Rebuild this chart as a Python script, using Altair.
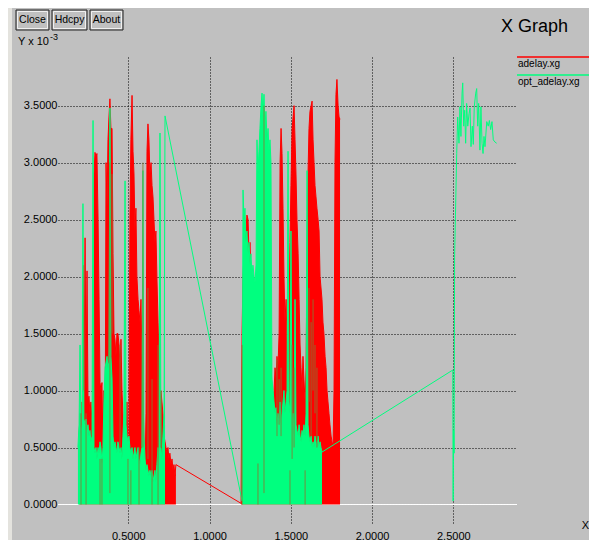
import altair as alt
import pandas as pd

# ---------------- data ----------------
# dense time samples (s) of the first burst
t1 = [0.190, 0.197, 0.203, 0.209, 0.215, 0.221, 0.227, 0.234, 0.240, 0.246,
      0.252, 0.258, 0.264, 0.270, 0.277, 0.283, 0.289, 0.295, 0.301, 0.307,
      0.314, 0.320, 0.326, 0.332, 0.338, 0.344, 0.350, 0.357, 0.363, 0.369,
      0.375, 0.381, 0.387, 0.393, 0.400, 0.406, 0.412, 0.418, 0.424, 0.430,
      0.436, 0.443, 0.449, 0.455, 0.461, 0.467, 0.473, 0.480, 0.486, 0.492,
      0.498, 0.504, 0.510, 0.516, 0.523, 0.529, 0.535, 0.541, 0.547, 0.553,
      0.560, 0.566, 0.572, 0.578, 0.584, 0.590, 0.596, 0.603, 0.609, 0.615,
      0.621, 0.627, 0.633, 0.640, 0.646, 0.652, 0.658, 0.664, 0.670, 0.676,
      0.683, 0.689, 0.695, 0.701, 0.707, 0.713, 0.720, 0.726, 0.732, 0.738,
      0.744, 0.750, 0.756, 0.763, 0.769, 0.775, 0.781, 0.787, 0.793]
# dense time samples (s) of the second burst
t2 = [1.194, 1.200, 1.206, 1.212, 1.218, 1.224, 1.230, 1.237, 1.243, 1.249,
      1.255, 1.261, 1.267, 1.274, 1.280, 1.286, 1.292, 1.298, 1.304, 1.310,
      1.317, 1.323, 1.329, 1.335, 1.341, 1.347, 1.354, 1.360, 1.366, 1.372,
      1.378, 1.384, 1.391, 1.397, 1.403, 1.409, 1.415, 1.421, 1.428, 1.434,
      1.440, 1.446, 1.452, 1.458, 1.464, 1.471, 1.477, 1.483, 1.489, 1.495,
      1.501, 1.508, 1.514, 1.520, 1.526, 1.532, 1.538, 1.545, 1.551, 1.557,
      1.563, 1.569, 1.575, 1.581, 1.588, 1.594, 1.600, 1.606, 1.612, 1.618,
      1.625, 1.631, 1.637, 1.643, 1.649, 1.655, 1.661, 1.668, 1.674, 1.680,
      1.686, 1.692, 1.698, 1.704, 1.711, 1.717, 1.723, 1.729, 1.735, 1.741,
      1.748, 1.754, 1.760, 1.766, 1.772, 1.778, 1.784, 1.791, 1.797, 1.803]

# adelay.xg (Y x 10^-3), first burst on t1[1:]
adelay_1 = [0.6, 0.8, 0.3, 0.9, 0.7, 0.9, 2.34, 1.0, 2.05, 0.9,
            0.95, 0.8, 0.9, 0.7, 0.3, 2.9, 3.09, 3.05, 3.08, 2.5,
            1.8, 1.07, 1.0, 1.07, 0.5, 1.0, 0.2, 3.0, 2.6, 3.2,
            3.4, 3.56, 3.3, 3.3, 2.2, 1.5, 1.45, 1.3, 1.5, 1.5,
            1.4, 1.2, 1.45, 1.0, 0.8, 0.5, 0.8, 0.3, 0.9, 0.2,
            0.6, 2.5, 3.2, 3.59, 3.1, 2.9, 2.4, 2.6, 2.0, 1.8,
            1.7, 1.6, 1.8, 1.3, 1.0, 0.6, 0.3, 0.8, 3.1, 3.34,
            3.2, 2.9, 3.0, 2.8, 2.7, 2.5, 2.3, 2.4, 2.0, 1.6,
            1.3, 1.0, 1.0, 0.9, 0.8, 0.6, 0.55, 0.5, 0.45, 0.5,
            0.4, 0.45, 0.35, 0.4, 0.3, 0.35, 0.25, 0.35]
# adelay.xg second burst on t2
adelay_2 = [0.01, 1.5, 2.0, 2.2, 2.3, 2.4, 2.54, 2.5, 2.2, 2.3,
            2.0, 1.8, 2.0, 1.6, 1.9, 1.5, 2.1, 1.8, 2.4, 2.2,
            2.8, 2.5, 3.0, 3.2, 2.6, 3.3, 2.5, 2.2, 1.8, 1.5,
            1.3, 1.0, 0.9, 1.0, 1.2, 1.1, 1.3, 1.2, 1.5, 3.0,
            3.3, 3.08, 2.6, 2.0, 1.6, 1.8, 1.4, 1.2, 1.7, 2.3,
            2.8, 3.3, 3.4, 3.5, 3.2, 2.9, 2.5, 2.2, 1.8, 1.4,
            1.2, 1.0, 1.3, 1.1, 0.9, 1.2, 2.2, 2.9, 3.3, 3.45,
            3.5, 3.54, 3.2, 3.0, 2.8, 2.7, 2.6, 2.5, 2.4, 2.0,
            1.9, 1.8, 1.6, 1.5, 1.3, 1.2, 1.0, 0.9, 0.8, 0.7,
            0.6, 0.55, 0.5, 1.0, 3.0, 3.6, 3.73, 3.5, 3.4, 3.38]

# opt_adelay.xg first burst on t1[:88]
opt_1 = [0.5, 0.7, 1.40, 0.6, 0.7, 2.64, 0.75, 0.7, 0.75, 0.65,
         0.7, 0.6, 0.65, 0.55, 0.6, 3.37, 0.5, 0.45, 0.5, 0.4,
         0.5, 0.45, 0.55, 0.5, 0.35, 0.5, 0.9, 1.2, 1.25, 1.3,
         1.2, 1.25, 3.48, 1.3, 1.1, 0.6, 0.5, 0.55, 0.5, 0.45,
         0.55, 0.5, 0.45, 0.5, 0.4, 0.6, 0.8, 2.84, 0.7, 0.6,
         0.55, 0.6, 0.5, 0.45, 0.5, 0.4, 0.45, 0.5, 0.4, 0.45,
         0.5, 0.4, 0.35, 0.45, 0.5, 2.93, 0.6, 0.4, 0.3, 0.35,
         0.3, 0.25, 0.3, 0.25, 0.3, 0.2, 0.25, 0.3, 0.2, 0.35,
         0.5, 0.4, 3.26, 0.5, 0.4, 0.6, 0.8, 3.41]
# opt_adelay.xg second burst on t2[1:82]
opt_2 = [0.03, 2.76, 2.5, 2.6, 2.3, 2.4, 2.2, 2.3, 2.1, 2.2,
         2.0, 2.1, 2.0, 1.95, 2.1, 3.2, 2.9, 3.1, 3.3, 3.5,
         3.61, 3.4, 3.6, 3.3, 3.45, 3.2, 3.3, 3.1, 3.2, 3.0,
         1.1, 1.0, 0.9, 0.8, 0.85, 0.7, 0.8, 0.75, 0.9, 0.7,
         0.8, 0.9, 1.0, 0.8, 0.9, 1.0, 3.1, 0.9, 0.8, 2.4,
         0.7, 0.8, 0.6, 1.8, 0.7, 0.65, 0.6, 0.7, 0.6, 0.55,
         0.65, 0.6, 0.7, 0.6, 0.8, 2.93, 0.7, 0.6, 0.55, 0.6,
         0.5, 0.55, 0.5, 0.6, 0.55, 0.5, 0.6, 0.5, 0.55, 0.5, 0.46]
# opt_adelay.xg third part (line only)
opt_3_t = [2.497, 2.499, 2.502, 2.505, 2.508, 2.521, 2.527, 2.535, 2.541, 2.547,
           2.554, 2.558, 2.564, 2.570, 2.576, 2.582, 2.589, 2.597, 2.603, 2.609,
           2.617, 2.623, 2.629, 2.638, 2.644, 2.650, 2.656, 2.664, 2.670, 2.677,
           2.683, 2.689, 2.695, 2.706, 2.715, 2.722, 2.730, 2.738, 2.746, 2.757, 2.767]
opt_3 = [1.18, 0.03, 0.65, 0.45, 2.17, 3.08, 3.40, 3.17, 3.49, 3.23,
         3.61, 3.70, 3.32, 3.46, 3.17, 3.52, 3.32, 3.43, 3.48, 3.14,
         3.32, 3.16, 3.49, 3.61, 3.65, 3.32, 3.52, 3.11, 3.49, 3.17,
         3.08, 3.23, 3.14, 3.36, 3.32, 3.37, 3.29, 3.36, 3.20, 3.18, 3.17]

# thin overlap strokes (where the two traces cross), time / low / high
overlap_t = [0.209, 0.227, 0.240, 0.326, 0.338, 0.387, 0.400, 0.449, 0.498,
             0.516, 0.566, 0.590, 0.621, 0.646, 0.683, 0.701,
             1.200, 1.298, 1.335, 1.415, 1.428, 1.440, 1.495, 1.508, 1.520,
             1.588, 1.612, 1.625, 1.637, 1.649, 1.661]
overlap_lo = [0.0, 1.0, 0.0, 0.0, 0.0, 0.1, 1.5, 0.5, 0.0,
              0.0, 0.0, 0.5, 0.4, 0.0, 0.0, 0.5,
              0.0, 0.0, 0.1, 0.6, 0.7, 0.6, 0.0, 0.4, 0.5,
              0.0, 0.9, 0.6, 1.0, 0.8, 0.5]
overlap_hi = [0.8, 2.1, 0.8, 0.4, 0.4, 3.0, 2.9, 1.4, 0.4,
              0.3, 0.5, 3.0, 1.9, 1.1, 1.4, 1.0,
              1.4, 0.36, 3.5, 1.27, 1.1, 1.2, 0.3, 1.4, 1.2,
              0.3, 1.9, 1.6, 1.8, 1.4, 1.2]

x_ticks = [0.5, 1.0, 1.5, 2.0, 2.5]
y_ticks = [0.0, 0.5, 1.0, 1.5, 2.0, 2.5, 3.0, 3.5]
series_names = ["adelay.xg", "opt_adelay.xg"]
buttons = ["Close", "Hdcpy", "About"]
title_text = "X Graph"

assert len(adelay_1) == len(t1) - 1
assert len(adelay_2) == len(t2)
assert len(opt_1) == 88
assert len(opt_2) == 81
assert len(opt_3_t) == len(opt_3)
assert len(overlap_t) == len(overlap_lo) == len(overlap_hi)

# ---------------- tables ----------------
def seg(ts, ys, name, segid):
    return pd.DataFrame({"t": ts, "v": ys, "series": name, "seg": segid, "base": 0.0})

red_parts = [seg(t1[1:], adelay_1, series_names[0], 1),
             seg(t2, adelay_2, series_names[0], 2)]
green_parts = [seg(t1[:88], opt_1, series_names[1], 1),
               seg(t2[1:82], opt_2, series_names[1], 2),
               seg(opt_3_t, opt_3, series_names[1], 3)]
red = pd.concat(red_parts, ignore_index=True)
red["ord"] = range(len(red))
green = pd.concat(green_parts, ignore_index=True)
green["ord"] = range(len(green))
overlap = pd.DataFrame({"t": overlap_t, "v": overlap_lo, "v2": overlap_hi})

RED = "#ff0000"
GREEN = "#00ff7f"
OLIVE = "#857a34"
BG = "#c0c0c0"
FONT = "Liberation Sans"

xscale = alt.Scale(domain=[0.0674, 2.892], nice=False, zero=False)
yscale = alt.Scale(domain=[-0.180, 3.927], nice=False, zero=False)
xaxis = alt.Axis(values=x_ticks, format=".4f", grid=True, gridColor="#000000",
                 gridDash=[1, 2], gridWidth=1, domain=False, ticks=False,
                 labelPadding=5, labelFontSize=11, labelFont=FONT, labelColor="#000",
                 title=None)
yaxis = alt.Axis(values=y_ticks, format=".4f", grid=True, gridColor="#000000",
                 gridDash=[1, 2], gridWidth=1, domain=False, ticks=False,
                 labelPadding=1, labelFontSize=11, labelFont=FONT, labelColor="#000",
                 title=None)

X = alt.X("t:Q", scale=xscale, axis=xaxis)
Y = alt.Y("v:Q", scale=yscale, axis=yaxis)

zero_line = alt.Chart(pd.DataFrame({"v": [0.0]})).mark_rule(color="white", strokeWidth=1).encode(
    y=alt.Y("v:Q", scale=yscale, axis=yaxis))

layers = [zero_line]


def area_layers(parts, col):
    out = []
    for p in parts[:2]:
        out.append(alt.Chart(p).mark_area(color=col, opacity=1, interpolate="linear").encode(
            x=X, y=Y, y2="base:Q"))
    return out


layers += area_layers(red_parts, RED)
layers.append(alt.Chart(red).mark_line(color=RED, strokeWidth=1).encode(
    x=X, y=Y, order="ord:Q"))
layers += area_layers(green_parts, GREEN)
layers.append(alt.Chart(green).mark_line(color=GREEN, strokeWidth=1).encode(
    x=X, y=Y, order="ord:Q"))
layers.append(alt.Chart(overlap).mark_rule(color=OLIVE, strokeWidth=1, opacity=0.85).encode(
    x=X, y=Y, y2="v2:Q"))

one = pd.DataFrame({"k": [0]})

# left light strip of the window frame
layers.append(alt.Chart(one).mark_rect(color="#e4e3de").encode(
    x=alt.value(-50), x2=alt.value(-46), y=alt.value(-49), y2=alt.value(483)))

# buttons
btn_x = [(-42, -9), (-6, 29), (32, 65)]
for name, (a, b) in zip(buttons, btn_x):
    d = pd.DataFrame({"label": [name]})
    layers.append(alt.Chart(d).mark_rect(fill=BG, stroke="#202020", strokeWidth=1).encode(
        x=alt.value(a), x2=alt.value(b), y=alt.value(-47), y2=alt.value(-27)))
    layers.append(alt.Chart(d).mark_rect(fill=None, stroke="#f0f0f0", strokeWidth=1).encode(
        x=alt.value(a + 1.5), x2=alt.value(b - 1.5), y=alt.value(-45.5), y2=alt.value(-28.5)))
    layers.append(alt.Chart(d).mark_text(font=FONT, fontSize=10.5, color="#000",
                                         align="center", baseline="middle").encode(
        x=alt.value((a + b) / 2), y=alt.value(-37), text="label:N"))

# title
layers.append(alt.Chart(pd.DataFrame({"label": [title_text]})).mark_text(
    font=FONT, fontSize=18, color="#000", align="left", baseline="middle").encode(
    x=alt.value(443), y=alt.value(-30), text="label:N"))

# Y axis unit label
layers.append(alt.Chart(pd.DataFrame({"label": ["Y x 10"]})).mark_text(
    font=FONT, fontSize=11, color="#000", align="left", baseline="middle").encode(
    x=alt.value(-40), y=alt.value(-15), text="label:N"))
layers.append(alt.Chart(pd.DataFrame({"label": ["-3"]})).mark_text(
    font=FONT, fontSize=9, color="#000", align="left", baseline="middle").encode(
    x=alt.value(-8), y=alt.value(-20), text="label:N"))

# X axis unit label
layers.append(alt.Chart(pd.DataFrame({"label": ["X"]})).mark_text(
    font=FONT, fontSize=11, color="#000", align="right", baseline="middle").encode(
    x=alt.value(531), y=alt.value(469), text="label:N"))

# legend
for name, col, yy in [(series_names[0], RED, 0), (series_names[1], GREEN, 18)]:
    d = pd.DataFrame({"label": [name]})
    layers.append(alt.Chart(d).mark_rule(color=col, strokeWidth=1.5).encode(
        x=alt.value(459), x2=alt.value(531), y=alt.value(yy)))
    layers.append(alt.Chart(d).mark_text(font=FONT, fontSize=10, color="#000",
                                         align="left", baseline="middle").encode(
        x=alt.value(460), y=alt.value(yy + 7), text="label:N"))

chart = alt.layer(*layers).properties(
    width=459, height=468, background=BG,
    padding={"left": 50, "top": 49, "right": 72, "bottom": 15},
    autosize=alt.AutoSizeParams(type="none"),
).configure_view(stroke=None)

chart.save("out.html", embed_options={"renderer": "svg", "actions": False})
